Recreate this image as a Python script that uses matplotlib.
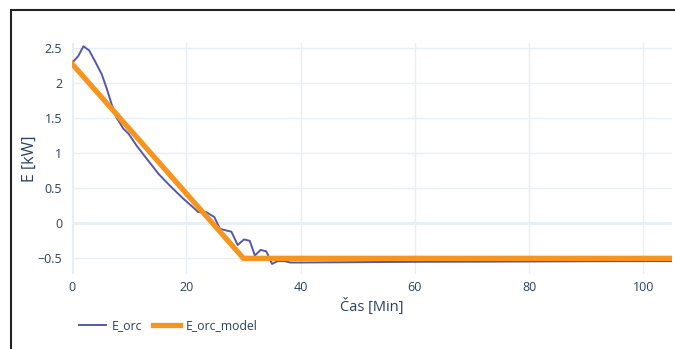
import matplotlib
matplotlib.use("Agg")
import matplotlib.pyplot as plt
from matplotlib.lines import Line2D

plt.rcParams['font.family'] = ['Open Sans', 'DejaVu Sans']

# E_orc measured data
t_orc = [0, 1.1, 2, 3, 4, 5.2, 6.1, 6.9, 7.8, 9, 9.9, 11.3, 13.1, 15.1, 17.1, 19.5,
         20.9, 22.1, 23.5, 24.9, 25.9, 27.9, 29, 30.1, 31.1, 32, 33, 34, 35, 36,
         37.2, 38.2, 40, 50, 60, 70, 80, 90, 100, 105]
e_orc = [2.29, 2.39, 2.53, 2.47, 2.32, 2.13, 1.92, 1.71, 1.51, 1.35, 1.28, 1.11, 0.92,
         0.71, 0.54, 0.35, 0.25, 0.16, 0.16, 0.09, -0.08, -0.12, -0.31, -0.23, -0.25,
         -0.46, -0.38, -0.40, -0.58, -0.54, -0.54, -0.56, -0.56, -0.555, -0.55,
         -0.548, -0.545, -0.542, -0.54, -0.54]

# E_orc_model
t_model = [0, 30, 105]
e_model = [2.28, -0.5, -0.5]

x_ticks = [0, 20, 40, 60, 80, 100]
y_ticks = [-0.5, 0, 0.5, 1, 1.5, 2, 2.5]
y_tick_labels = ['\u22120.5', '0', '0.5', '1', '1.5', '2', '2.5']

text_color = '#2a3f5f'
grid_color = '#e6eef8'

fig = plt.figure(figsize=(6.75, 3.49), dpi=100)
ax = fig.add_axes([72/675, 1-274/349, 600/675, 231/349])

ax.plot(t_orc, e_orc, color='#5558a8', lw=1.4, label='E_orc', zorder=3)
ax.plot(t_model, e_model, color='#f7941d', lw=3.8, label='E_orc_model', zorder=4,
        solid_joinstyle='miter')

ax.set_xlim(0, 105)
ax.set_ylim(-0.724, 2.576)
ax.set_xticks(x_ticks)
ax.set_yticks(y_ticks)
ax.set_yticklabels(y_tick_labels)
ax.grid(True, color=grid_color, lw=1)
ax.axhline(0, color=grid_color, lw=2, zorder=1)
ax.axvline(0, color=grid_color, lw=2, zorder=1)
for s in ax.spines.values():
    s.set_visible(False)
ax.tick_params(axis='x', length=0, colors=text_color, labelsize=9, pad=5)
ax.tick_params(axis='y', length=0, colors=text_color, labelsize=9, pad=7)
ax.set_xlabel('Čas [Min]', color=text_color, fontsize=10.5, labelpad=3)
ax.set_ylabel('E [kW]', color=text_color, fontsize=11.5, labelpad=0)

leg = fig.legend(loc='center left', bbox_to_anchor=(68/675, 1-326/349), ncol=2,
                 frameon=False, fontsize=8.8, handlelength=2.2, handletextpad=0.45,
                 columnspacing=0.9, labelcolor=text_color)

# screenshot border
fig.add_artist(Line2D([10/675, 1], [1-9.5/349, 1-9.5/349], color='#222222', lw=1.5,
                      solid_capstyle='butt'))
fig.add_artist(Line2D([10.5/675, 10.5/675], [0, 1-9.5/349], color='#222222', lw=1.5,
                      solid_capstyle='butt'))

fig.savefig('out.png', dpi=100)
